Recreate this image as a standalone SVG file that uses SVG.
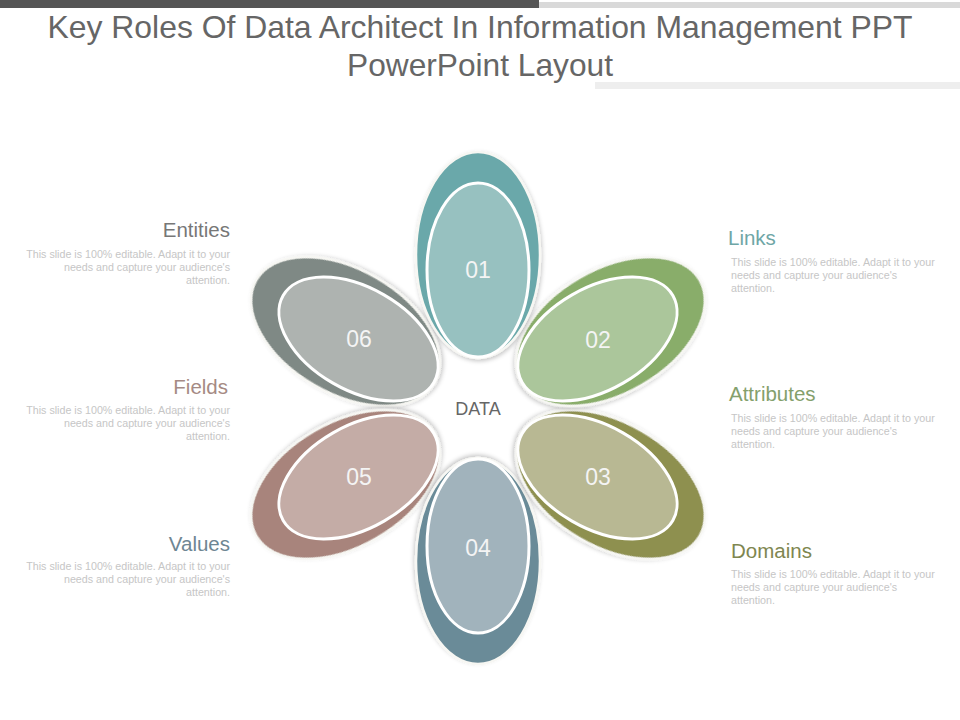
<svg xmlns="http://www.w3.org/2000/svg" width="960" height="720" viewBox="0 0 960 720">
<defs>
<filter id="sh" x="-30%" y="-30%" width="160%" height="160%">
<feDropShadow dx="1" dy="2" stdDeviation="2" flood-color="#000" flood-opacity="0.22"/>
</filter>
<style>
.title{font-family:"Liberation Sans",Arial,sans-serif;font-size:32px;fill:#666666;text-anchor:middle}
.outer{stroke:#f7f7f3;stroke-width:2.5;filter:url(#sh)}
.inner{stroke:#ffffff;stroke-width:3}
.num{font-family:"Liberation Sans",Arial,sans-serif;font-size:23px;fill:#f4f4f4;text-anchor:middle}
.head{font-family:"Liberation Sans",Arial,sans-serif;font-size:20.5px}
.body{font-family:"Liberation Sans",Arial,sans-serif;font-size:10.7px;fill:#c6c6c6}
.l{text-anchor:end}
.data{font-family:"Liberation Sans",Arial,sans-serif;font-size:18px;fill:#666666;text-anchor:middle}
</style>
</defs>
<rect width="960" height="720" fill="#ffffff"/>
<rect x="538" y="2" width="422" height="6" fill="#d9d9d9"/>
<rect x="0" y="0" width="539" height="8" fill="#555555"/>
<rect x="595" y="82" width="365" height="7" fill="#eeeeee"/>
<text class="title" x="480" y="38" textLength="865" lengthAdjust="spacingAndGlyphs">Key Roles Of Data Architect In Information Management PPT</text>
<text class="title" x="480" y="76" textLength="266" lengthAdjust="spacingAndGlyphs">PowerPoint Layout</text>

<g id="petal-06" transform="translate(478,408) rotate(300)">
<ellipse class="outer" cx="0" cy="-153" rx="62" ry="103" fill="#7f8985"/>
<ellipse class="inner" cx="0" cy="-138" rx="51" ry="87" fill="#aeb3b0"/>
</g>
<g id="petal-05" transform="translate(478,408) rotate(240)">
<ellipse class="outer" cx="0" cy="-153" rx="62" ry="103" fill="#a8847b"/>
<ellipse class="inner" cx="0" cy="-138" rx="51" ry="87" fill="#c4aca6" stroke="#fbf3ee"/>
</g>
<g id="petal-04" transform="translate(478,408) rotate(180)">
<ellipse class="outer" cx="0" cy="-153" rx="62" ry="103" fill="#6b8b98"/>
<ellipse class="inner" cx="0" cy="-138" rx="51" ry="87" fill="#a1b3bc"/>
</g>
<g id="petal-03" transform="translate(478,408) rotate(120)">
<ellipse class="outer" cx="0" cy="-153" rx="62" ry="103" fill="#8e904f"/>
<ellipse class="inner" cx="0" cy="-138" rx="51" ry="87" fill="#b8b893" stroke="#fbf9ec"/>
</g>
<g id="petal-02" transform="translate(478,408) rotate(60)">
<ellipse class="outer" cx="0" cy="-153" rx="62" ry="103" fill="#89ad6b"/>
<ellipse class="inner" cx="0" cy="-138" rx="51" ry="87" fill="#abc69b" stroke="#f5faef"/>
</g>
<g id="petal-01" transform="translate(478,408)">
<ellipse class="outer" cx="0" cy="-153" rx="62" ry="103" fill="#6aa8aa"/>
<ellipse class="inner" cx="0" cy="-138" rx="51" ry="87" fill="#97c1c0" stroke="#f2fafa"/>
</g>

<g id="numbers">
<text class="num" x="478" y="278">01</text>
<text class="num" x="598" y="348">02</text>
<text class="num" x="598" y="485">03</text>
<text class="num" x="478" y="556">04</text>
<text class="num" x="359" y="485">05</text>
<text class="num" x="359" y="347">06</text>
</g>
<g id="center">
<text class="data" x="478" y="415">DATA</text>
</g>

<g id="label-entities">
<text class="head l" x="230" y="237" fill="#777777">Entities</text>
<text class="body l" x="230" y="258">This slide is 100% editable.  Adapt it to your</text>
<text class="body l" x="230" y="271">needs and capture your audience's</text>
<text class="body l" x="230" y="284">attention.</text>
</g>
<g id="label-fields">
<text class="head l" x="228" y="394" fill="#a58a84">Fields</text>
<text class="body l" x="230" y="414">This slide is 100% editable.  Adapt it to your</text>
<text class="body l" x="230" y="427">needs and capture your audience's</text>
<text class="body l" x="230" y="440">attention.</text>
</g>
<g id="label-values">
<text class="head l" x="230" y="551" fill="#6e8693">Values</text>
<text class="body l" x="230" y="570">This slide is 100% editable.  Adapt it to your</text>
<text class="body l" x="230" y="583">needs and capture your audience's</text>
<text class="body l" x="230" y="596">attention.</text>
</g>
<g id="label-links">
<text class="head" x="728" y="245" fill="#6ea6a6">Links</text>
<text class="body" x="731" y="266">This slide is 100% editable.  Adapt it to your</text>
<text class="body" x="731" y="279">needs and capture your audience's</text>
<text class="body" x="731" y="292">attention.</text>
</g>
<g id="label-attributes">
<text class="head" x="729" y="401" fill="#84a06c">Attributes</text>
<text class="body" x="731" y="422">This slide is 100% editable.  Adapt it to your</text>
<text class="body" x="731" y="435">needs and capture your audience's</text>
<text class="body" x="731" y="448">attention.</text>
</g>
<g id="label-domains">
<text class="head" x="731" y="558" fill="#7e8650">Domains</text>
<text class="body" x="731" y="578">This slide is 100% editable.  Adapt it to your</text>
<text class="body" x="731" y="591">needs and capture your audience's</text>
<text class="body" x="731" y="604">attention.</text>
</g>
<g id="connectors"></g>
</svg>
